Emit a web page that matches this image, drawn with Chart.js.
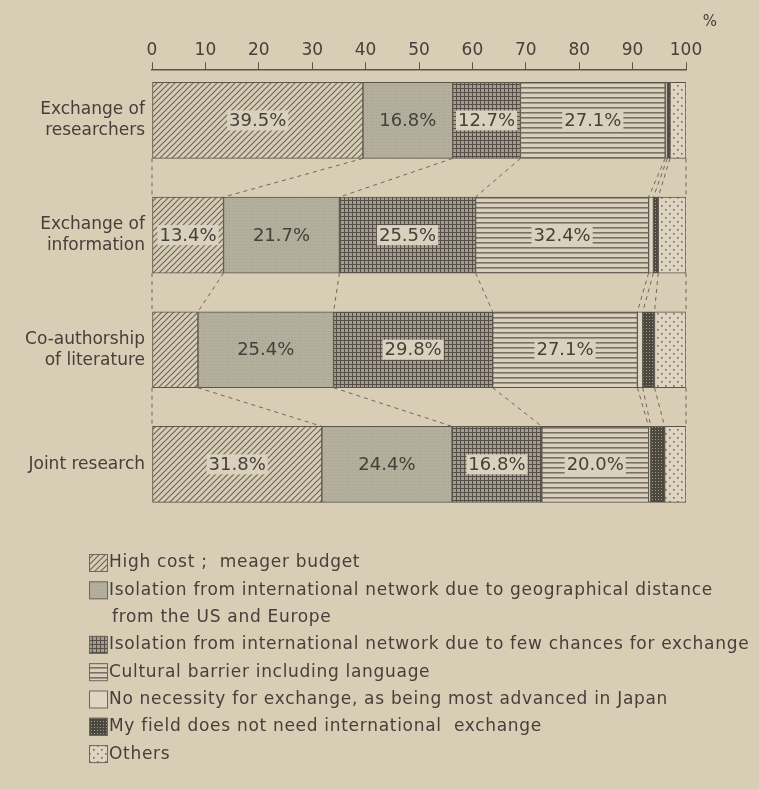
<!DOCTYPE html>
<html>
<head>
<meta charset="utf-8">
<script src="https://cdn.jsdelivr.net/npm/chart.js@4"></script>
<style>
  body { margin: 0; background: #d7ceb5; }
  #wrap { width: 759px; height: 789px; position: relative; }
</style>
</head>
<body>
<div id="wrap"><canvas id="myChart"></canvas></div>
<script>
// categories (rows of the chart)
const categories = [
    ['Exchange of', 'researchers'],
    ['Exchange of', 'information'],
    ['Co-authorship', 'of literature'],
    'Joint research'
];

// series values, % of answers per row
const highCost = [39.5, 13.4, 8.6, 31.8];
const isoGeo = [16.8, 21.7, 25.4, 24.4];
const isoFew = [12.7, 25.5, 29.8, 16.8];
const cultural = [27.1, 32.4, 27.1, 20.0];
const noNeed = [0.4, 0.9, 1.0, 0.4];
const myField = [0.5, 0.9, 2.2, 2.6];
const others = [3.0, 5.2, 5.9, 4.0];

const tickValues = [0, 10, 20, 30, 40, 50, 60, 70, 80, 90, 100];

const legendLabels = [
    ['High cost ;  meager budget'],
    ['Isolation from international network due to geographical distance', 'from the US and Europe'],
    ['Isolation from international network due to few chances for exchange'],
    ['Cultural barrier including language'],
    ['No necessity for exchange, as being most advanced in Japan'],
    ['My field does not need international  exchange'],
    ['Others']
];

const ink = '#45403a';
const font = '"DejaVu Sans", Verdana, sans-serif';

// small tiles used as fills
function tile(w, h, draw) {
    const c = document.createElement('canvas');
    c.width = w; c.height = h;
    const g = c.getContext('2d');
    draw(g);
    return document.createElement('canvas').getContext('2d').createPattern(c, 'repeat');
}

const patterns = [
    tile(6, 6, g => { // diagonal hatch
        g.fillStyle = '#d6cdb5'; g.fillRect(0, 0, 6, 6);
        g.strokeStyle = '#6a645a'; g.lineWidth = 1.1;
        g.beginPath();
        g.moveTo(-1, 7); g.lineTo(7, -1);
        g.moveTo(-4, 4); g.lineTo(4, -4);
        g.moveTo(2, 10); g.lineTo(10, 2);
        g.stroke();
    }),
    tile(3, 3, g => { // fine grey screen
        g.fillStyle = '#b4ae9d'; g.fillRect(0, 0, 3, 3);
        g.fillStyle = '#a8a291'; g.fillRect(1, 1, 1, 1);
    }),
    tile(4, 4, g => { // crosshatch grid
        g.fillStyle = '#a49e90'; g.fillRect(0, 0, 4, 4);
        g.fillStyle = '#554f47'; g.fillRect(0, 0, 4, 1); g.fillRect(0, 0, 1, 4);
    }),
    tile(4, 5, g => { // horizontal lines
        g.fillStyle = '#d9d1bd'; g.fillRect(0, 0, 4, 5);
        g.fillStyle = '#777166'; g.fillRect(0, 2, 4, 1.6);
    }),
    '#ded6c3', // plain
    tile(3, 3, g => { // dense dark dots
        g.fillStyle = '#4c473f'; g.fillRect(0, 0, 3, 3);
        g.fillStyle = '#a09a8c'; g.fillRect(1, 1, 1, 1);
    }),
    tile(8, 8, g => { // sparse dots
        g.fillStyle = '#ddd5c2'; g.fillRect(0, 0, 8, 8);
        g.fillStyle = '#6f695f';
        g.fillRect(1, 1, 1.6, 1.6); g.fillRect(5, 5, 1.6, 1.6);
    })
];

const series = [highCost, isoGeo, isoFew, cultural, noNeed, myField, others];

// draws dashed connectors between bars, value labels, "%" and legend
const decorPlugin = {
    id: 'decor',
    afterDatasetsDraw(chart) {
        const ctx = chart.ctx;
        const x = chart.scales.x;
        const metas = series.map((s, d) => chart.getDatasetMeta(d));

        // dashed connectors
        ctx.save();
        ctx.setLineDash([4, 4]);
        ctx.strokeStyle = '#6d675d';
        ctx.lineWidth = 1;
        for (let i = 0; i < categories.length - 1; i++) {
            const a = metas[0].data[i], b = metas[0].data[i + 1];
            const y1 = a.y + a.height / 2, y2 = b.y - b.height / 2;
            let c1 = 0, c2 = 0;
            for (let k = 0; k <= series.length; k++) {
                ctx.beginPath();
                ctx.moveTo(x.getPixelForValue(c1), y1);
                ctx.lineTo(x.getPixelForValue(c2), y2);
                ctx.stroke();
                if (k < series.length) { c1 += series[k][i]; c2 += series[k][i + 1]; }
            }
        }
        ctx.restore();

        // value labels
        ctx.save();
        ctx.font = '18px ' + font;
        ctx.textAlign = 'center';
        ctx.textBaseline = 'middle';
        series.forEach((s, d) => {
            metas[d].data.forEach((el, i) => {
                if (s[i] < 10) return;
                const txt = s[i].toFixed(1) + '%';
                const cx = (el.x + el.base) / 2;
                const w = ctx.measureText(txt).width + 4;
                if (d !== 1) {
                    ctx.fillStyle = '#d9d1bd';
                    ctx.fillRect(cx - w / 2, el.y - 10, w, 20);
                }
                ctx.fillStyle = ink;
                ctx.fillText(txt, cx, el.y + 1);
            });
        });
        ctx.restore();

        // "%" unit
        ctx.save();
        ctx.font = '15px ' + font;
        ctx.fillStyle = ink;
        ctx.textAlign = 'center';
        ctx.fillText('%', x.getPixelForValue(100) + 24, 26);
        ctx.restore();

        // legend
        ctx.save();
        ctx.font = '17px ' + font;
        ctx.letterSpacing = '0.7px';
        ctx.textBaseline = 'middle';
        let ly = 563;
        legendLabels.forEach((lines, d) => {
            ctx.fillStyle = patterns[d];
            ctx.fillRect(89, ly - 9, 19, 18);
            ctx.strokeStyle = '#6d675d';
            ctx.lineWidth = 1;
            ctx.strokeRect(89.5, ly - 8.5, 18, 17);
            ctx.fillStyle = ink;
            lines.forEach((t, j) => {
                ctx.fillText(t, j === 0 ? 109 : 112, ly);
                ly += 27.3;
            });
        });
        ctx.restore();
    }
};

const names = ['High cost', 'Isolation (distance)', 'Isolation (few chances)', 'Cultural barrier',
    'No necessity', 'My field', 'Others'];

new Chart(document.getElementById('myChart'), {
    type: 'bar',
    data: {
        datasets: series.map((s, d) => ({
            label: names[d],
            data: s.map((v, i) => ({ x: v, y: i })),
            backgroundColor: patterns[d],
            borderColor: '#5a544b',
            borderWidth: 1,
            borderSkipped: false,
            barThickness: 76
        }))
    },
    plugins: [decorPlugin],
    options: {
        indexAxis: 'y',
        responsive: true,
        maintainAspectRatio: false,
        animation: false,
        layout: { padding: { top: 38, right: 73, bottom: 268, left: 0 } },
        scales: {
            x: {
                type: 'linear',
                position: 'top',
                stacked: true,
                min: 0,
                max: 100,
                afterBuildTicks: scale => { scale.ticks = tickValues.map(v => ({ value: v })); },
                grid: { drawOnChartArea: false, color: '#5a544b', tickLength: 7 },
                border: { color: '#5a544b', width: 1.5 },
                ticks: { color: ink, font: { family: font, size: 17 }, padding: 2, maxRotation: 0 }
            },
            y: {
                type: 'linear',
                reverse: true,
                stacked: true,
                offset: false,
                min: -0.445,
                max: 3.494,
                afterBuildTicks: scale => { scale.ticks = categories.map((c, i) => ({ value: i })); },
                grid: { display: false, drawTicks: false, offset: false },
                border: { display: false },
                afterFit: scale => { scale.width = 152; },
                ticks: {
                    color: ink,
                    font: { family: font, size: 17, lineHeight: 1.25 },
                    padding: 7,
                    callback: v => categories[v]
                }
            }
        },
        plugins: {
            legend: { display: false },
            tooltip: { enabled: false }
        }
    }
});
</script>
</body>
</html>
